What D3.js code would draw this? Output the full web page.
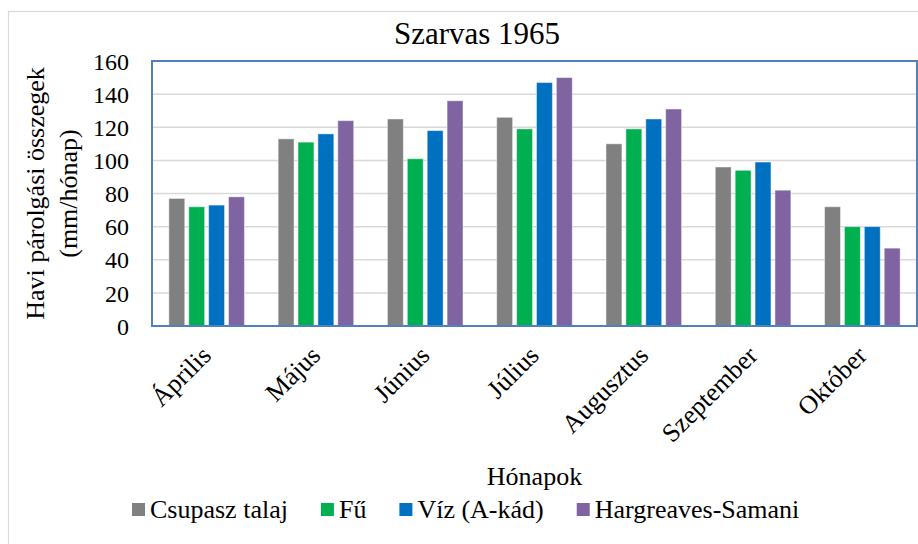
<!DOCTYPE html>
<html lang="hu">
<head>
<meta charset="utf-8">
<title>Szarvas 1965</title>
<script src="https://d3js.org/d3.v7.min.js"></script>
<style>
  body { margin: 0; background: #fff; }
  svg text { font-family: "Liberation Serif", "Times New Roman", serif; fill: #000; }
</style>
</head>
<body>
<div id="chart"></div>
<script>
// data
var months = ["Április", "Május", "Június", "Július", "Augusztus", "Szeptember", "Október"];
var series = ["Csupasz talaj", "Fű", "Víz (A-kád)", "Hargreaves-Samani"];
var colors = ["#808080", "#00b050", "#0070c0", "#8064a2"];
var bareSoil = [77, 113, 125, 126, 110, 96, 72];
var grass    = [72, 111, 101, 119, 119, 94, 60];
var water    = [73, 116, 118, 147, 125, 99, 60];
var hargreaves = [78, 124, 136, 150, 131, 82, 47];
var yTicks = [0, 20, 40, 60, 80, 100, 120, 140, 160];

var values = [bareSoil, grass, water, hargreaves];

var serif = "'Liberation Serif', 'Times New Roman', serif";
var width = 918, height = 544;
var plot = { left: 152, top: 61, right: 917, bottom: 326 };

var svg = d3.select("#chart").append("svg")
  .attr("width", width)
  .attr("height", height)
  .attr("font-family", serif);

// outer chart border
svg.append("rect")
  .attr("x", 8.5).attr("y", 11.5)
  .attr("width", 940).attr("height", 560)
  .attr("fill", "none")
  .attr("stroke", "#d9d9d9")
  .attr("stroke-width", 1.2);

var x0 = d3.scaleBand()
  .domain(months)
  .range([plot.left, plot.right])
  .paddingInner(0.272)
  .paddingOuter(0.136);

var x1 = d3.scaleBand()
  .domain(series)
  .range([0, x0.bandwidth()])
  .paddingInner(0.2)
  .paddingOuter(0.1);

var y = d3.scaleLinear()
  .domain([0, 160])
  .range([plot.bottom, plot.top]);

// gridlines
svg.append("g")
  .selectAll("line")
  .data(yTicks)
  .enter().append("line")
  .attr("x1", plot.left).attr("x2", plot.right)
  .attr("y1", function(d) { return y(d); })
  .attr("y2", function(d) { return y(d); })
  .attr("stroke", "#d9d9d9")
  .attr("stroke-width", 1.5);

// y axis labels
var yAxis = svg.append("g")
  .attr("transform", "translate(" + (plot.left - 23) + ",0)")
  .call(d3.axisLeft(y).tickValues(yTicks).tickSize(0).tickPadding(0))
  .attr("font-family", serif)
  .attr("font-size", "24px");
yAxis.select(".domain").remove();
yAxis.selectAll("text")
  .attr("dy", "0.34em");

// bars
var groups = svg.append("g")
  .selectAll("g")
  .data(months)
  .enter().append("g")
  .attr("transform", function(d) { return "translate(" + x0(d) + ",0)"; });

groups.selectAll("rect")
  .data(function(m, i) {
    return series.map(function(s, j) { return { s: s, j: j, v: values[j][i] }; });
  })
  .enter().append("rect")
  .attr("x", function(d) { return x1(d.s); })
  .attr("width", x1.bandwidth())
  .attr("y", function(d) { return y(d.v); })
  .attr("height", function(d) { return y(0) - y(d.v); })
  .attr("fill", function(d) { return colors[d.j]; })
  .attr("stroke", "#ffffff")
  .attr("stroke-opacity", 0.45)
  .attr("stroke-width", 1);

// plot frame
svg.append("rect")
  .attr("x", plot.left).attr("y", plot.top)
  .attr("width", plot.right - plot.left)
  .attr("height", plot.bottom - plot.top)
  .attr("fill", "none")
  .attr("stroke", "#4f81bd")
  .attr("stroke-width", 2);

// x axis labels, rotated
svg.append("g")
  .selectAll("text")
  .data(months)
  .enter().append("text")
  .attr("transform", function(d) {
    return "translate(" + (x0(d) + x0.bandwidth() / 2 + 6) + ",357) rotate(-45)";
  })
  .attr("text-anchor", "end")
  .attr("font-size", "26px")
  .text(function(d) { return d; });

// title
svg.append("text")
  .attr("x", 477).attr("y", 44)
  .attr("text-anchor", "middle")
  .attr("font-size", "31px")
  .text("Szarvas 1965");

// axis titles
svg.append("text")
  .attr("x", (plot.left + plot.right) / 2).attr("y", 485)
  .attr("text-anchor", "middle")
  .attr("font-size", "26px")
  .text("Hónapok");

var yTitle = svg.append("text")
  .attr("transform", "translate(44," + ((plot.top + plot.bottom) / 2) + ") rotate(-90)")
  .attr("text-anchor", "middle")
  .attr("font-size", "26px");
yTitle.append("tspan").attr("x", 0).attr("dy", 0).text("Havi párolgási összegek");
yTitle.append("tspan").attr("x", 0).attr("dy", 33).text("(mm/hónap)");

// legend
var legend = svg.append("g").attr("transform", "translate(132,518)");
var lx = 0;
series.forEach(function(s, i) {
  var item = legend.append("g").attr("transform", "translate(" + lx + ",0)");
  item.append("rect")
    .attr("x", 0).attr("y", -15)
    .attr("width", 13).attr("height", 13)
    .attr("fill", colors[i]);
  var t = item.append("text")
    .attr("x", 18).attr("y", 0)
    .attr("font-size", "26px")
    .text(s);
  lx += 18 + t.node().getComputedTextLength() + 33;
});
</script>
</body>
</html>
